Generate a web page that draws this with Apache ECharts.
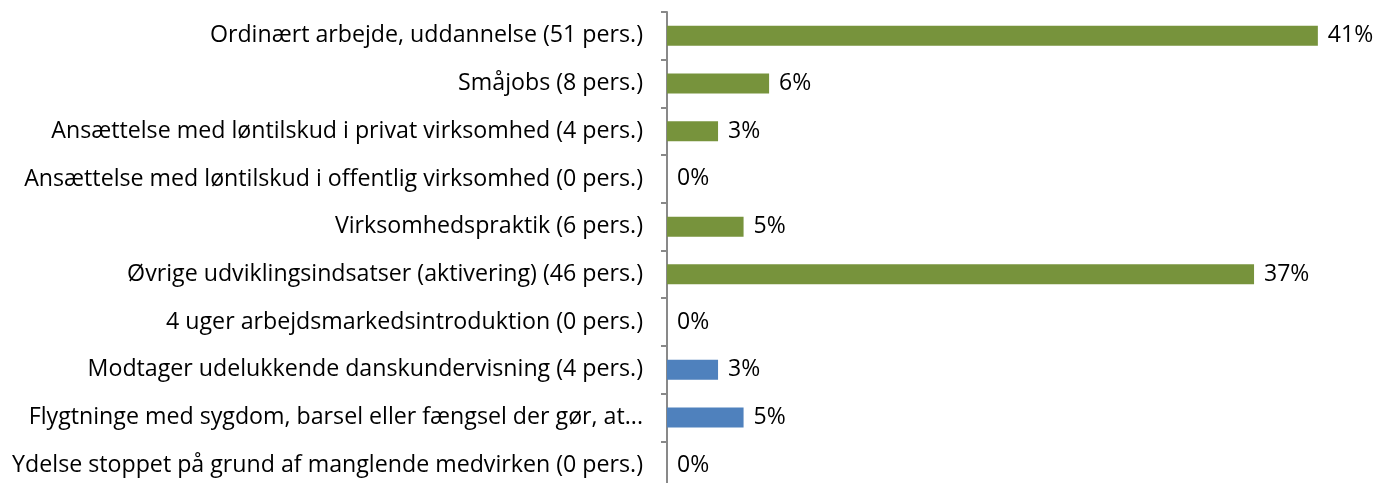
<!DOCTYPE html>
<html><head><meta charset="utf-8">
<script src="https://cdn.jsdelivr.net/npm/echarts@6/dist/echarts.min.js"></script>
<style>html,body{margin:0;padding:0;background:#fff;overflow:hidden}#c{width:1376px;height:489px}</style>
</head><body><div id="c"></div>
<script>
const categories = [
  "Ordinært arbejde, uddannelse (51 pers.)",
  "Småjobs (8 pers.)",
  "Ansættelse med løntilskud i privat virksomhed (4 pers.)",
  "Ansættelse med løntilskud i offentlig virksomhed (0 pers.)",
  "Virksomhedspraktik (6 pers.)",
  "Øvrige udviklingsindsatser (aktivering) (46 pers.)",
  "4 uger arbejdsmarkedsintroduktion (0 pers.)",
  "Modtager udelukkende danskundervisning (4 pers.)",
  "Flygtninge med sygdom, barsel eller fængsel der gør, at...",
  "Ydelse stoppet på grund af manglende medvirken (0 pers.)"
];
const values = [40.8, 6.4, 3.2, 0, 4.8, 36.8, 0, 3.2, 4.8, 0];
const groups = ["g","g","g","g","g","g","g","b","b","b"];
const colorMap = {g: "#77933C", b: "#4F81BD"};

const chart = echarts.init(document.getElementById('c'));
const font = "'Open Sans', sans-serif";
chart.setOption({
  animation: false,
  grid: {left: 667, top: 12, bottom: 0, width: 670, containLabel: false},
  xAxis: {type: 'value', min: 0, max: 42, show: false},
  yAxis: {
    type: 'category', inverse: true, data: categories,
    axisLine: {show: true, lineStyle: {color: '#898989', width: 2}},
    axisTick: {show: true, length: 6, lineStyle: {color: '#898989', width: 2}},
    axisLabel: {color: '#000', fontSize: 23.2, fontFamily: font, margin: 24}
  },
  series: [{
    type: 'bar', barWidth: 20,
    data: values.map((v, i) => ({value: v, itemStyle: {color: colorMap[groups[i]]}})),
    label: {show: true, position: 'right', distance: 10, color: '#000', fontSize: 23, fontFamily: font,
      formatter: p => Math.round(p.value) + '%'}
  }]
});
</script></body></html>
